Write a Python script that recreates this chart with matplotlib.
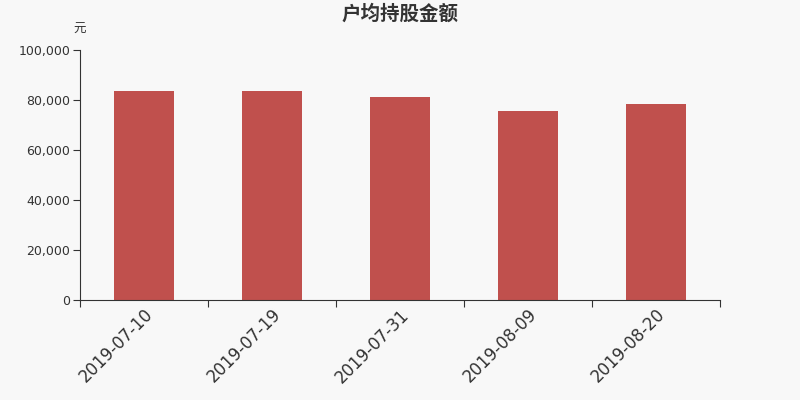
import matplotlib
matplotlib.use("Agg")
import matplotlib.pyplot as plt
from matplotlib.ticker import FuncFormatter
import numpy as np

plt.rcParams['font.family'] = ['Noto Sans CJK SC', 'DejaVu Sans']

# data
dates = ['2019-07-10', '2019-07-19', '2019-07-31', '2019-08-09', '2019-08-20']
amounts = [83700, 83700, 81200, 75600, 78300]

bg = '#f8f8f8'
bar_color = '#c0504d'
text_color = '#333333'

fig = plt.figure(figsize=(8, 4), dpi=100, facecolor=bg)
ax = fig.add_axes([0.1, 0.25, 0.8, 0.625], facecolor=bg)

x = np.arange(len(dates))
ax.bar(x, amounts, width=0.47, color=bar_color, zorder=2)

ax.set_xlim(-0.5, len(dates) - 0.5)
ax.set_ylim(0, 100000)
ax.set_yticks(np.arange(0, 100001, 20000))
ax.yaxis.set_major_formatter(FuncFormatter(lambda v, p: f'{int(v):,}'))

# ticks sit on category boundaries, labels at centers
ax.set_xticks(np.arange(-0.5, len(dates), 1.0))
ax.set_xticklabels([])
ax.set_xticks(x, minor=True)
ax.set_xticklabels(dates, minor=True, rotation=45, ha='right',
                   rotation_mode='anchor', fontsize=12, color=text_color,
                   family='DejaVu Sans')
ax.tick_params(axis='x', which='minor', length=0, pad=4)
ax.tick_params(axis='x', which='major', length=5, color=text_color)
ax.tick_params(axis='y', length=5, color=text_color, labelsize=9,
               labelcolor=text_color, pad=2)
for lbl in ax.get_yticklabels():
    lbl.set_family('DejaVu Sans')

for side in ['top', 'right']:
    ax.spines[side].set_visible(False)
for side in ['left', 'bottom']:
    ax.spines[side].set_color(text_color)

fig.text(0.5, 0.965, '户均持股金额', ha='center', va='center', fontsize=14,
         fontweight='bold', color=text_color)
fig.text(0.099, 0.927, '元', ha='center', va='center', fontsize=9,
         color=text_color)

fig.savefig('out.png', dpi=100, facecolor=bg)
